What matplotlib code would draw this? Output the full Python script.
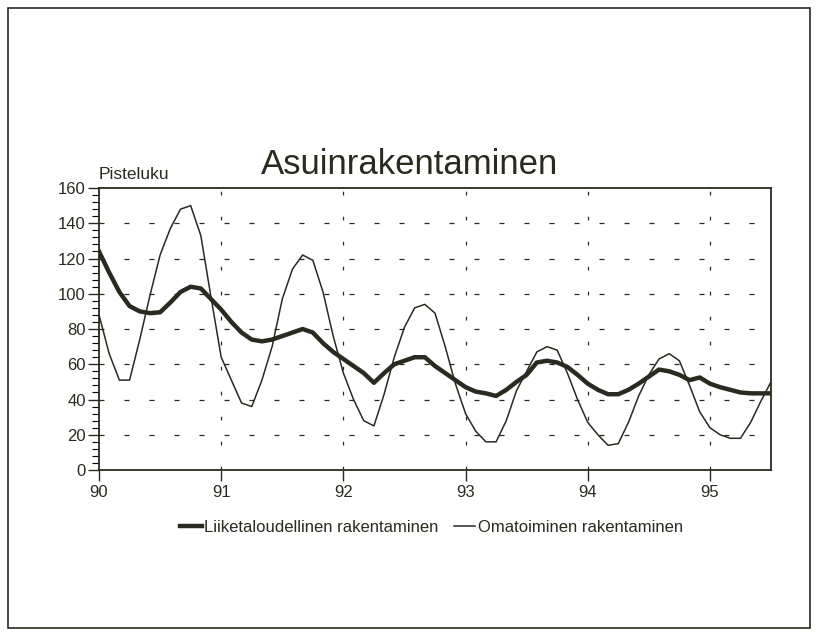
import numpy as np
import matplotlib.pyplot as plt
from matplotlib import font_manager
from matplotlib.patches import Rectangle
from matplotlib.ticker import MultipleLocator

# pick a narrow font if there is one
names = set(f.name for f in font_manager.fontManager.ttflist)
fam = "Liberation Sans Narrow" if "Liberation Sans Narrow" in names else "Liberation Sans"
plt.rcParams["font.family"] = [fam, "DejaVu Sans"]

# monthly values 1990/01 - 1995/07
years = 90 + np.arange(67) / 12.0

liiketaloudellinen = [124, 112, 101, 93, 90, 89, 89.5, 95, 101, 104, 103, 97,
                      91, 84, 78, 74, 73, 74, 76, 78, 80, 78, 72, 67,
                      63, 59, 55, 49.5, 55, 60, 62, 64, 64, 59, 55, 51,
                      47, 44.5, 43.5, 42, 45.5, 50, 54, 61, 62, 61, 58.5, 54,
                      49, 45.5, 43, 43, 45.5, 49, 53, 57, 56, 54, 51, 52.5,
                      49, 47, 45.5, 44, 43.5, 43.5, 43.5]

omatoiminen = [88, 66, 51, 51, 74, 99, 122, 137, 148, 150, 133, 98,
               64, 51, 38, 36, 51, 70, 97, 114, 122, 119, 101, 76,
               55, 40, 28, 25, 43, 64, 81, 92, 94, 89, 70, 49,
               32, 22, 16, 16, 28, 45, 56, 67, 70, 68, 55, 40,
               27, 20, 14, 15, 27, 42, 54, 63, 66, 62, 48, 33,
               24, 20, 18, 18, 27, 39, 50]

xticks = [90, 91, 92, 93, 94, 95]
yticks = [0, 20, 40, 60, 80, 100, 120, 140, 160]

ink = "#2a2a20"

fig = plt.figure(figsize=(8.19, 6.38), dpi=100)
ax = fig.add_axes([0.1209, 0.2633, 0.8205, 0.442])

ax.plot(years, liiketaloudellinen, color=ink, lw=3.2, label="Liiketaloudellinen rakentaminen",
        solid_joinstyle="round", zorder=3)
ax.plot(years, omatoiminen, color=ink, lw=1.1, label="Omatoiminen rakentaminen", zorder=3)

ax.set_xlim(90, 95.5)
ax.set_ylim(0, 160)
ax.set_xticks(xticks)
ax.set_xticklabels([str(v) for v in xticks])
ax.set_yticks(yticks)
ax.yaxis.set_minor_locator(MultipleLocator(4))
ax.tick_params(axis="both", labelsize=12, colors=ink, width=1, direction="out")
ax.tick_params(axis="y", which="major", length=8, pad=1.5)
ax.tick_params(axis="y", which="minor", length=5, width=0.8)
ax.tick_params(axis="x", length=8, pad=3)

for v in yticks[1:-1]:
    ax.axhline(v, color=ink, lw=0.9, dashes=(4, 16), zorder=1)
for v in xticks[1:]:
    ax.axvline(v, color=ink, lw=0.9, dashes=(3, 17), zorder=1)

for s in ax.spines.values():
    s.set_color(ink)
    s.set_linewidth(1.3)

ax.text(0.0, 1.02, "Pisteluku", transform=ax.transAxes, fontsize=12.5, color=ink,
        ha="left", va="bottom")

fig.text(0.5, 0.742, "Asuinrakentaminen", fontsize=25, color=ink, ha="center", va="center")

leg = fig.legend(loc="center", bbox_to_anchor=(0.527, 0.173), ncol=2, frameon=False,
                 fontsize=12, handlelength=1.3, handletextpad=0.15, columnspacing=0.9)
for t in leg.get_texts():
    t.set_color(ink)

# outer frame of the page
fig.patches.append(Rectangle((0.01, 0.015), 0.979, 0.972, transform=fig.transFigure,
                             fill=False, edgecolor=ink, lw=1.2))

plt.savefig("out.png", dpi=100)
